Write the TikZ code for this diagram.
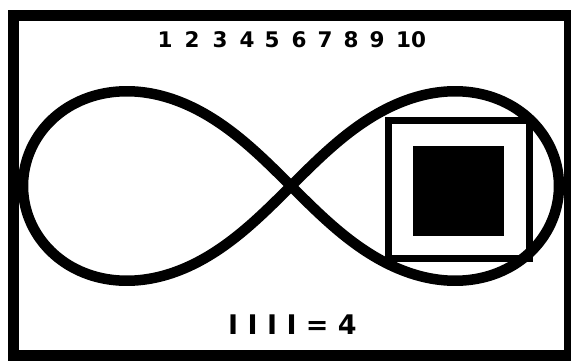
\documentclass[tikz,border=0pt]{standalone}
\usepackage{fontspec}
\setmainfont{DejaVu Sans}

\begin{document}
\begin{tikzpicture}[x=1pt, y=1pt, line cap=butt,
    numero/.style={font=\bfseries\fontsize{21.5}{25}\selectfont, inner sep=0pt}]
      \useasboundingbox (0,0) rectangle (571,360);
      \fill[white] (0,0) rectangle (571,360);
      % marco
      \draw[line width=11pt] (13.5,344.5) rectangle (569.5,4.5);
      % numeros
      \foreach \n/\x in {1/165,2/192,3/220,4/247,5/272,6/299,7/325,8/351,9/377,10/411}
        \node[numero] (num\n) at (\x,320) {\n};
      % lemniscata
      \draw[line width=10.5pt] plot[domain=0:358.5, samples=240, smooth cycle, variable=\t]
        ({291+268*cos(\t)/(1+(sin(\t))^2)}, {174+268*sin(\t)*cos(\t)/(1+(sin(\t))^2)});
      % cuadros
      \draw[line width=7pt] (388,239.5) rectangle (529.5,101.5);
      \fill (413,214) rectangle (504,124);
      % cuenta
      \node[font=\bfseries\fontsize{27}{30}\selectfont, inner sep=0pt] (cuenta) at (292.5,35) {I I I I = 4};
    \end{tikzpicture}
\end{document}
